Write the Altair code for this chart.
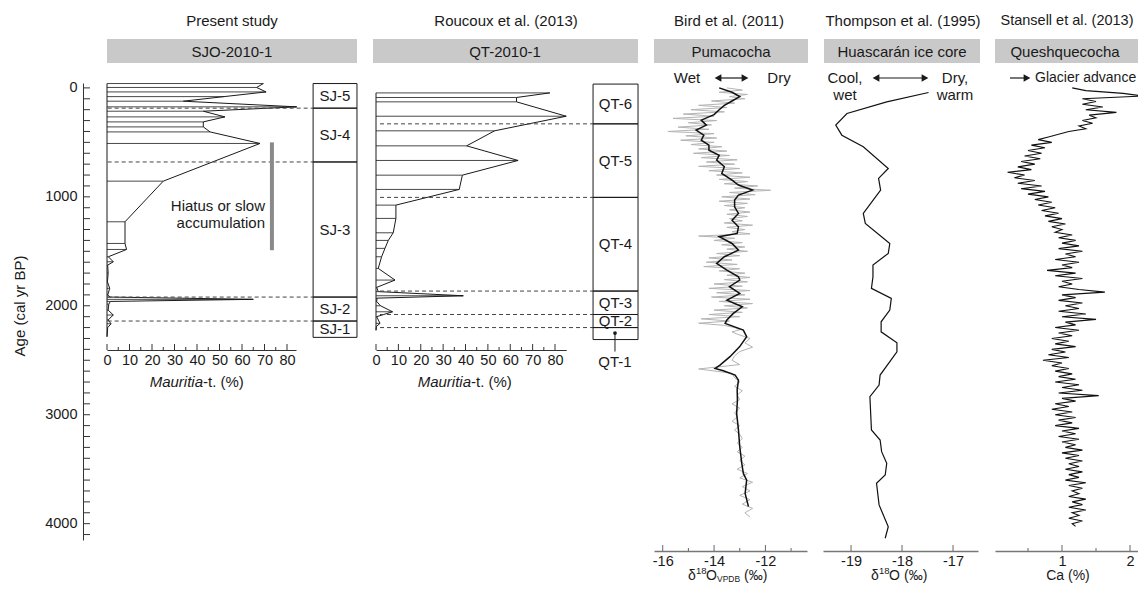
import altair as alt
import pandas as pd

FONT = "Liberation Sans"
INK = "#1a1a1a"
X0, Y0 = 83, 83          # page position of the plot origin
W, H = 1055, 457
FS = 15                  # general text size
TS = 14.5                # tick label size

# ---------------- data ----------------
# SJO-2010-1 Mauritia-type pollen (%)
sjo_age = [-40, -4, 37, 80, 122, 174, 214, 266, 312, 358, 404, 510, 856, 1229, 1428, 1483,
           1550, 1596, 1627, 1700, 1780, 1840, 1902, 1920, 1941, 1960, 1985, 2040, 2085,
           2130, 2165, 2200, 2284]
sjo_pct = [69.5, 66.5, 70.7, 52.0, 33.9, 84.3, 42.8, 52.4, 42.8, 42.8, 45.8, 68.0, 25.0, 8.0,
           8.0, 8.7, 0.6, 2.8, 0.3, 0.5, 0.2, 1.2, 0.3, 1.5, 65.0, 1.5, 0.8, 0.5, 2.8, 0.5,
           1.8, 0.3, 0.0]
sj_zone_names = ["SJ-5", "SJ-4", "SJ-3", "SJ-2", "SJ-1"]
sj_zone_top = [-40, 186, 680, 1920, 2140]
sj_zone_bot = [186, 680, 1920, 2140, 2290]
sj_bounds = [186, 680, 1920, 2140]
hiatus_age = [500, 1490]

# QT-2010-1 Mauritia-type pollen (%)
qt_age = [46, 88, 128, 260, 394, 532, 666, 801, 932, 1076, 1198, 1330, 1400, 1473, 1550,
          1657, 1764, 1831, 1870, 1908, 1930, 1960, 2000, 2055, 2100, 2161, 2190, 2225]
qt_pct = [77.7, 62.8, 62.8, 85.0, 53.0, 40.5, 63.5, 38.6, 37.2, 8.9, 8.9, 7.7, 5.5, 4.0, 2.5,
          1.0, 8.5, 0.3, 1.0, 39.0, 0.5, 0.3, 2.0, 7.4, 0.3, 1.8, 0.2, 0.0]
qt_zone_names = ["QT-6", "QT-5", "QT-4", "QT-3", "QT-2", ""]
qt_zone_top = [-35, 330, 1005, 1865, 2080, 2200]
qt_zone_bot = [330, 1005, 1865, 2080, 2200, 2310]
qt_bounds = [330, 1005, 1865, 2080, 2200]
qt1_marker_age = [2250, 2420]

# Pumacocha d18O raw (grey) and smoothed (black)
puma_raw_age = list(range(0, 2241, 20)) + [2260] + list(range(2300, 3941, 40))
puma_raw_d18o = [
    -13.5, -12.9, -13.8, -12.7, -13.4, -12.8, -14.1, -13.2, -14.6, -13.5,
    -14.9, -13.6, -15.2, -14.0, -15.6, -13.9, -15.0, -14.1, -15.4, -14.2,
    -15.8, -14.0, -15.1, -13.9, -15.3, -14.0, -14.9, -13.7, -14.6, -13.5,
    -14.8, -13.4, -14.5, -13.1, -14.3, -13.2, -14.6, -13.0, -14.2, -12.9,
    -13.9, -12.6, -13.8, -12.7, -13.6, -12.3, -13.2, -11.8, -13.4, -12.4,
    -13.7, -12.6, -13.8, -12.7, -13.6, -12.8, -13.4, -12.6, -13.5, -12.7,
    -13.4, -12.9, -13.6, -12.5, -13.5, -12.8, -13.3, -12.6, -14.6, -13.2,
    -14.0, -12.9, -13.7, -12.8, -13.5, -12.7, -13.9, -13.0, -14.2, -13.3,
    -14.3, -13.1, -14.4, -13.0, -13.8, -12.8, -13.5, -12.6, -13.6, -12.7,
    -14.0, -12.9, -14.2, -12.6, -13.9, -12.8, -14.1, -12.6, -13.8, -12.5,
    -13.6, -12.7, -14.0, -12.9, -14.2, -13.0, -14.5, -13.4, -14.6, -13.6,
    -13.2, -13.0, -13.3,
    -13.1,
    -12.6, -12.8, -12.5, -13.0, -13.2, -13.3, -13.0, -14.6, -13.3, -13.2,
    -13.0, -13.2, -12.9, -13.1, -13.0, -13.3, -13.0, -13.2, -13.1, -13.3,
    -13.0, -13.2, -13.0, -12.9, -13.1, -12.9, -13.1, -12.8, -13.0, -12.8,
    -13.1, -12.7, -13.0, -12.5, -12.9, -12.6, -13.0, -12.6, -12.9, -12.5,
    -12.8, -12.6]
puma_smooth_age = [0, 40, 80, 120, 160, 200, 245, 296, 342, 388, 434, 480, 526, 572, 618, 663,
                   724, 785, 846, 892, 938, 984, 1030, 1091, 1152, 1214, 1275, 1336, 1366,
                   1428, 1489, 1550, 1611, 1672, 1734, 1764, 1825, 1887, 1948, 2009, 2070,
                   2131, 2162, 2223, 2284, 2375, 2467, 2544, 2575, 2596, 2636, 2682, 2770,
                   2866, 2988, 3141, 3294, 3447, 3539, 3600, 3722, 3844]
puma_smooth_d18o = [-13.8, -13.3, -13.0, -13.3, -13.6, -13.8, -14.0, -14.5, -14.3, -14.7,
                    -14.4, -14.5, -14.2, -14.2, -13.8, -13.9, -13.6, -13.7, -13.3, -13.05,
                    -12.5, -13.05, -13.2, -13.2, -13.05, -13.3, -13.05, -13.1, -13.8, -13.3,
                    -13.05, -13.6, -13.9, -13.5, -13.05, -13.0, -13.4, -13.0, -13.5, -12.9,
                    -13.25, -13.5, -13.57, -12.86, -12.73, -13.0, -13.38, -13.77, -13.96,
                    -13.64, -13.18, -13.05, -13.1, -13.09, -13.12, -13.05, -13.0, -12.92,
                    -12.86, -12.73, -12.79, -12.66]

# Huascaran ice core d18O
huas_age = [42, 128, 235, 342, 434, 541, 740, 831, 939, 1152, 1244, 1428, 1519, 1627, 1734,
            1840, 1932, 2039, 2147, 2239, 2339, 2422, 2636, 2728, 2835, 3140, 3232, 3339,
            3446, 3553, 3629, 3828, 4028, 4134]
huas_d18o = [-17.48, -18.3, -19.08, -19.3, -19.18, -18.76, -18.27, -18.46, -18.42, -18.76,
             -18.72, -18.24, -18.27, -18.57, -18.57, -18.6, -18.21, -18.24, -18.41, -18.41,
             -18.1, -18.1, -18.43, -18.45, -18.63, -18.6, -18.43, -18.4, -18.3, -18.33,
             -18.5, -18.45, -18.27, -18.33]

# Queshquecocha Ca (%)
stan_age = list(range(0, 4026, 25))
stan_ca = [1.15, 1.35, 1.9, 2.2, 1.3, 1.5, 1.3, 1.6, 1.35, 1.8, 1.4,
           1.5, 1.3, 1.45, 1.25, 1.35, 1.1, 0.95, 0.8,
           0.65, 0.85, 0.55, 0.75, 0.5, 0.7, 0.45, 0.68, 0.4, 0.6, 0.35, 0.55,
           0.2, 0.45, 0.3, 0.6, 0.35, 0.7, 0.4, 0.75, 0.5, 0.8,
           0.6, 0.85, 0.65, 0.9, 0.7, 0.95, 0.75, 1.0, 0.8, 1.05, 0.85, 1.0,
           0.9, 1.15, 0.95, 1.2, 1.0, 1.25, 0.95, 1.3, 1.05, 1.2, 0.9, 1.25, 1.0, 1.15,
           0.78, 1.2, 0.9, 1.3, 1.0, 1.15, 0.95, 1.25, 1.63, 1.0, 1.2, 0.95, 1.3, 1.05,
           1.25, 0.95, 1.35, 1.0, 1.5, 1.05, 1.2, 0.9, 1.25, 0.95, 1.15, 0.85,
           1.1, 0.9, 1.2, 0.85, 1.05, 0.8, 1.1, 0.72, 1.0, 0.85, 1.1, 0.9,
           1.15, 0.95, 1.2, 0.9, 1.25, 1.0, 1.3, 0.95, 1.54, 1.0, 1.2, 0.9,
           1.1, 0.85, 1.15, 0.9, 1.2, 0.95, 1.15, 0.9, 1.25, 1.0, 1.2, 0.95,
           1.25, 1.0, 1.2, 1.05, 1.3, 1.0, 1.25, 1.05, 1.3, 1.1, 1.25, 1.05,
           1.3, 1.1, 1.25, 1.05, 1.35, 1.1, 1.3, 1.15, 1.25, 1.1, 1.35, 1.15,
           1.3, 1.1, 1.35, 1.15, 1.25, 1.1, 1.3, 1.15, 1.2]

# axis tick values / labels
age_labels = [0, 1000, 2000, 3000, 4000]
age_minor = list(range(0, 4101, 100))
pct_labels = [0, 10, 20, 30, 40, 50, 60, 70, 80]
pct_minor = [5, 15, 25, 35, 45, 55, 65, 75]
puma_labels = [-16, -14, -12]
puma_minor = [-15, -13, -11]
huas_labels = [-19, -18, -17]
stan_labels = [1, 2]
stan_minor = [0.5, 1.5]

# ---------------- helpers ----------------
ONE = pd.DataFrame({"k": [0]})


def sc(domain, rng):
    return alt.Scale(domain=domain, range=rng, nice=False, zero=False)


Y_SCALE = alt.Scale(domain=[-45, 4150], reverse=True, nice=False, zero=False)
Y_AXIS = alt.Axis(values=age_labels, ticks=False, tickSize=0, domain=True, domainColor="#333",
                  domainWidth=1, labelFont=FONT, labelFontSize=TS, labelColor=INK,
                  labelPadding=6, title=None, grid=False, labelFlush=False, labelOverlap=False,
                  labelExpr="'' + datum.value")


def Y(field):
    return alt.Y(field, type="quantitative", scale=Y_SCALE, axis=Y_AXIS)


def X(field, scale, axis=None):
    return alt.X(field, type="quantitative", scale=scale, axis=axis)


def x_axis(values, offset, color, width):
    return alt.Axis(values=values, orient="bottom", offset=offset, ticks=False, tickSize=0,
                    domain=True, domainColor=color, domainWidth=width, labelFont=FONT,
                    labelFontSize=TS, labelColor=INK, labelPadding=3, labelFlush=False,
                    labelOverlap=False, labelExpr="'' + datum.value", title=None, grid=False)


def ticks(vals, scale, ybase_page, length, color, axis=None):
    yb = ybase_page - Y0
    return alt.Chart(pd.DataFrame({"v": vals})).mark_rule(color=color, strokeWidth=1).encode(
        x=X("v", scale, axis), y=alt.value(yb), y2=alt.value(yb - length))


def txt(s, x, y, size=FS, align="center", style="normal", angle=0, color=INK, baseline="middle"):
    return alt.Chart(ONE).mark_text(text=s, font=FONT, fontSize=size, align=align,
                                    baseline=baseline, fontStyle=style, angle=angle,
                                    color=color).encode(x=alt.value(x - X0), y=alt.value(y - Y0))


def box(x1, x2, y1, y2, fill="#c9c9c9"):
    return alt.Chart(ONE).mark_rect(fill=fill).encode(
        x=alt.value(x1 - X0), x2=alt.value(x2 - X0), y=alt.value(y1 - Y0), y2=alt.value(y2 - Y0))


def arrow(x1, x2, y, left=True, right=True):
    out = [alt.Chart(ONE).mark_rule(color=INK, strokeWidth=1.2).encode(
        x=alt.value(x1 - X0 + 3), x2=alt.value(x2 - X0 - 3), y=alt.value(y - Y0))]
    if left:
        out.append(alt.Chart(ONE).mark_point(shape="triangle-left", filled=True, size=60,
                                             color=INK, opacity=1).encode(
            x=alt.value(x1 - X0 + 4), y=alt.value(y - Y0)))
    if right:
        out.append(alt.Chart(ONE).mark_point(shape="triangle-right", filled=True, size=60,
                                             color=INK, opacity=1).encode(
            x=alt.value(x2 - X0 - 4), y=alt.value(y - Y0)))
    return out


def pollen(age, pct, scale):
    df = pd.DataFrame({"age": age, "pct": pct, "zero": 0.0})
    spine = pd.DataFrame({"z": [0.0], "a": [min(age)], "b": [max(age)]})
    return [
        alt.Chart(df).mark_rule(color=INK, strokeWidth=0.8).encode(
            x=X("pct", scale), x2="zero", y=Y("age")),
        alt.Chart(df).mark_line(color=INK, strokeWidth=1).encode(
            x=X("pct", scale), y=Y("age"), order="age:Q"),
        alt.Chart(spine).mark_rule(color=INK, strokeWidth=1).encode(
            x=X("z", scale), y=Y("a"), y2="b"),
    ]


def zones(names, top, bot, left, right, bounds, dash_start, scale):
    df = pd.DataFrame({"name": names, "top": top, "bot": bot})
    df["mid"] = (df["top"] + df["bot"]) / 2
    df["L"] = left
    df["R"] = right
    df["cx"] = (left + right) / 2
    dd = pd.DataFrame({"age": bounds, "x0": dash_start, "x1": left})
    return [
        alt.Chart(dd).mark_rule(color="#444", strokeWidth=1, strokeDash=[4, 3]).encode(
            x=X("x0", scale), x2="x1", y=Y("age")),
        alt.Chart(df).mark_rect(fillOpacity=0, stroke=INK, strokeWidth=1).encode(
            x=X("L", scale), x2="R", y=Y("top"), y2="bot"),
        alt.Chart(df).mark_text(font=FONT, fontSize=FS, color=INK).encode(
            x=X("cx", scale), y=Y("mid"), text="name"),
    ]


BOT = 576      # centre line of the bottom axis titles
layers = []

# ---------------- age axis ----------------
layers.append(alt.Chart(pd.DataFrame({"age": age_minor})).mark_rule(color="#333").encode(
    y=Y("age"), x=alt.value(0), x2=alt.value(7)))
layers.append(txt("Age (cal yr BP)", 20, 306, angle=270))

# ---------------- SJO-2010-1 ----------------
sc_sjo = sc([0, 84], [24, 213])
layers += pollen(sjo_age, sjo_pct, sc_sjo)
layers += zones(sj_zone_names, sj_zone_top, sj_zone_bot, 91.6, 111.1, sj_bounds, 0.3, sc_sjo)
layers.append(alt.Chart(pd.DataFrame({"x": [73.3], "a": [hiatus_age[0]], "b": [hiatus_age[1]]}))
              .mark_rule(color="#8a8a8a", strokeWidth=4).encode(x=X("x", sc_sjo), y=Y("a"), y2="b"))
layers.append(txt("Hiatus or slow", 265, 206, align="right"))
layers.append(txt("accumulation", 265, 223, align="right"))
layers.append(ticks(pct_labels, sc_sjo, 350, 6, "#333", x_axis(pct_labels, -190, "#333", 1)))
layers.append(ticks(pct_minor, sc_sjo, 350, 3, "#333"))
layers.append(txt("Mauritia", 203, 382, align="right", style="italic"))
layers.append(txt("-t. (%)", 203, 382, align="left"))
layers.append(txt("Present study", 232, 21))
layers.append(box(107, 357, 39, 63))
layers.append(txt("SJO-2010-1", 232, 51.5))

# ---------------- QT-2010-1 ----------------
sc_qt = sc([0, 85], [293, 483.2])
layers += pollen(qt_age, qt_pct, sc_qt)
layers += zones(qt_zone_names, qt_zone_top, qt_zone_bot, 97.0, 117.1, qt_bounds, 1.8, sc_qt)
qt1 = pd.DataFrame({"x": [106.8], "a": [qt1_marker_age[0]], "b": [qt1_marker_age[1]]})
layers.append(alt.Chart(qt1).mark_rule(color=INK, strokeWidth=1).encode(
    x=X("x", sc_qt), y=Y("a"), y2="b"))
layers.append(alt.Chart(qt1).mark_point(filled=True, size=14, color=INK, opacity=1).encode(
    x=X("x", sc_qt), y=Y("a")))
layers.append(txt("QT-1", 615, 362))
layers.append(ticks(pct_labels, sc_qt, 350, 6, "#333", x_axis(pct_labels, -190, "#333", 1)))
layers.append(ticks(pct_minor, sc_qt, 350, 3, "#333"))
layers.append(txt("Mauritia", 471, 382, align="right", style="italic"))
layers.append(txt("-t. (%)", 471, 382, align="left"))
layers.append(txt("Roucoux et al. (2013)", 506, 21))
layers.append(box(373, 638, 39, 63))
layers.append(txt("QT-2010-1", 505, 51.5))

# ---------------- Pumacocha ----------------
sc_puma = sc([-16.34, -10.38], [571, 724])
df_raw = pd.DataFrame({"age": puma_raw_age, "v": puma_raw_d18o})
df_sm = pd.DataFrame({"age": puma_smooth_age, "v": puma_smooth_d18o})
layers.append(alt.Chart(df_raw).mark_line(color="#b4b4b4", strokeWidth=1).encode(
    x=X("v", sc_puma), y=Y("age"), order="age:Q"))
layers.append(alt.Chart(df_sm).mark_line(color="#111", strokeWidth=1.5).encode(
    x=X("v", sc_puma), y=Y("age"), order="age:Q"))
layers.append(ticks(puma_labels, sc_puma, 551, 6, "#666", x_axis(puma_labels, 11, "#777", 1.5)))
layers.append(ticks(puma_minor, sc_puma, 551, 3, "#666"))
layers.append(txt("Bird et al. (2011)", 729, 21))
layers.append(box(654, 808, 39, 63))
layers.append(txt("Pumacocha", 731, 51.5))
layers.append(txt("Wet", 687, 78))
layers.append(txt("Dry", 779, 78))
layers += arrow(714, 749, 78)
layers.append(txt("δ", 688, BOT, size=14, align="left"))
layers.append(txt("18", 696, BOT - 5, size=9.5, align="left"))
layers.append(txt("O", 706, BOT, size=14, align="left"))
layers.append(txt("VPDB", 717, BOT + 3, size=8.5, align="left"))
layers.append(txt("(‰)", 744, BOT, size=14, align="left"))

# ---------------- Huascaran ----------------
sc_huas = sc([-19.55, -16.51], [740, 895])
df_h = pd.DataFrame({"age": huas_age, "v": huas_d18o})
layers.append(alt.Chart(df_h).mark_line(color="#111", strokeWidth=1.2).encode(
    x=X("v", sc_huas), y=Y("age"), order="age:Q"))
layers.append(ticks(huas_labels, sc_huas, 551, 6, "#666", x_axis(huas_labels, 11, "#777", 1.5)))
layers.append(txt("Thompson et al. (1995)", 903, 21))
layers.append(box(824, 980, 39, 63))
layers.append(txt("Huascarán ice core", 902, 51.5))
layers.append(txt("Cool,", 845, 78))
layers.append(txt("wet", 845, 95))
layers.append(txt("Dry,", 955, 78))
layers.append(txt("warm", 955, 95))
layers += arrow(872, 929, 78)
layers.append(txt("δ", 871, BOT, size=14, align="left"))
layers.append(txt("18", 879, BOT - 5, size=9.5, align="left"))
layers.append(txt("O", 889, BOT, size=14, align="left"))
layers.append(txt("(‰)", 904, BOT, size=14, align="left"))

# ---------------- Queshquecocha ----------------
sc_stan = sc([0.015, 2.235], [912, 1063])
df_s = pd.DataFrame({"age": stan_age, "v": stan_ca})
layers.append(alt.Chart(df_s).mark_line(color="#111", strokeWidth=1.1).encode(
    x=X("v", sc_stan), y=Y("age"), order="age:Q"))
layers.append(ticks(stan_labels, sc_stan, 551, 6, "#666", x_axis(stan_labels, 11, "#777", 1.5)))
layers.append(ticks(stan_minor, sc_stan, 551, 3, "#666"))
layers.append(txt("Stansell et al. (2013)", 1067, 21, size=14.5))
layers.append(box(995, 1146, 39, 63))
layers.append(txt("Queshquecocha", 1065, 51.5))
layers += arrow(1007, 1031, 78, left=False)
layers.append(txt("Glacier advance", 1035, 78, size=14, align="left"))
layers.append(txt("Ca (%)", 1068, BOT, size=14))

chart = alt.layer(*layers).resolve_scale(x="independent").properties(
    width=W, height=H,
    autosize=alt.AutoSizeParams(type="none"),
    padding={"left": 75, "top": 75, "right": 0, "bottom": 46},
).configure_view(strokeWidth=0)

chart.save("out.html", embed_options={"renderer": "svg", "actions": False})
